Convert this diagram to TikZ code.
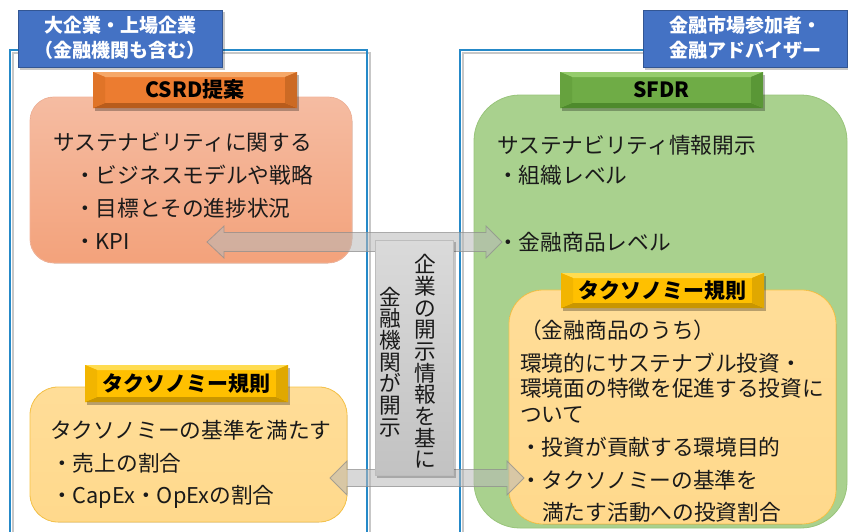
\documentclass[tikz,border=0pt]{standalone}
\usepackage{fontspec}
\setmainfont{Noto Sans CJK JP}
\usetikzlibrary{calc}
\definecolor{frameblue}{HTML}{2589C8}
\definecolor{labblue}{HTML}{4472C4}
\definecolor{txtcol}{HTML}{1A1A1A}
\definecolor{pinktop}{HTML}{F5BCA2}
\definecolor{pinkbot}{HTML}{F3A27B}
\definecolor{pinkline}{HTML}{F4B59A}
\definecolor{grnbox}{HTML}{A9D18E}
\definecolor{grnline}{HTML}{98C47A}
\definecolor{yelbox}{HTML}{FFD98C}
\definecolor{yelboxtop}{HTML}{FFDD98}
\definecolor{yelline}{HTML}{F8C448}
\definecolor{graytop}{HTML}{DADADA}
\definecolor{graybot}{HTML}{C2C2C2}
\definecolor{grayline}{HTML}{BDBDBD}
\definecolor{orgmain}{HTML}{EC7C30}
\definecolor{orglight}{HTML}{F6A868}
\definecolor{orgdark}{HTML}{B85C1C}
\definecolor{orgleft}{HTML}{E07428}
\definecolor{orgright}{HTML}{CC6A24}
\definecolor{grnmain}{HTML}{6FAC46}
\definecolor{grnlight}{HTML}{95CC6C}
\definecolor{grndark}{HTML}{4E8A2C}
\definecolor{grnleft}{HTML}{66A23E}
\definecolor{grnright}{HTML}{5A9736}
\definecolor{yelmain}{HTML}{FFC000}
\definecolor{yellight}{HTML}{FFDC50}
\definecolor{yeldark}{HTML}{C99600}
\definecolor{yelleft}{HTML}{F2B500}
\definecolor{yelright}{HTML}{E0A800}
\newcommand\bevelhdr[7]{%
  \fill[black,opacity=.28] (#2+2,#3+3) rectangle (#4+2,#5+3);
  \fill[#6main] (#2,#3) rectangle (#4,#5);
  \fill[#6light] (#2,#3) -- (#4,#3) -- (#4-12,#3+5) -- (#2+12,#3+5) -- cycle;
  \fill[#6dark] (#2,#5) -- (#4,#5) -- (#4-12,#5-5) -- (#2+12,#5-5) -- cycle;
  \fill[#6left] (#2,#3) -- (#2+12,#3+5) -- (#2+12,#5-5) -- (#2,#5) -- cycle;
  \fill[#6right] (#4,#3) -- (#4-12,#3+5) -- (#4-12,#5-5) -- (#4,#5) -- cycle;
  \node[hdrtxt] (#1) at ({(#2+#4)/2},{(#3+#5)/2}) {#7};
}
\begin{document}
\begin{tikzpicture}[x=1pt,y=-1pt,
  txt/.style={anchor=west,inner sep=0,font=\fontsize{21.7}{26}\selectfont,text=txtcol},
  hdrtxt/.style={inner sep=0,font=\fontsize{21}{25}\selectfont\bfseries,text=black},
  labtxt/.style={inner sep=0,align=center,font=\fontsize{19}{25}\selectfont\bfseries,text=white},
  vtxt/.style={inner sep=0,align=center,font=\fontsize{21.7}{21.7}\selectfont,text=txtcol},
  framest/.style={frameblue,line width=2.6},
  frameshadow/.style={black!22,line width=2.6},
  arrowst/.style={fill=black!28,fill opacity=.55,draw=black!45,draw opacity=.7,line width=0.8,line join=miter},
  shadowst/.style={black,opacity=.22}]
\useasboundingbox (0,0) rectangle (848,531);
\fill[white] (0,0) rectangle (848,531);
% frames
\draw[frameshadow] (13,545) -- (13,53) -- (370,53) -- (370,545);
\draw[framest] (10,545) -- (10,50) -- (367,50) -- (367,545);
\draw[frameshadow] (463,545) -- (463,53) -- (870,53);
\draw[framest] (460,545) -- (460,50) -- (870,50);
% label boxes
\fill[shadowst] (20,12) rectangle (225,70);
\filldraw[fill=labblue,draw=labblue!75!black,line width=0.6] (18,10) rectangle (222,67);
\node[labtxt] (labL) at (120,37.5) {大企業・上場企業\\（金融機関も含む）};
\fill[shadowst] (645,12) rectangle (850,70);
\filldraw[fill=labblue,draw=labblue!75!black,line width=0.6] (643,10) rectangle (847,67);
\node[labtxt] (labR) at (745,37.5) {金融市場参加者・\\金融アドバイザー};
% rounded boxes
\filldraw[top color=pinktop, bottom color=pinkbot, draw=pinkline, line width=0.8, rounded corners=24] (30,97) rectangle (352,263);
\filldraw[fill=grnbox, draw=grnline, line width=0.8, rounded corners=46] (474,95) rectangle (847,528);
\filldraw[top color=yelboxtop, bottom color=yelbox, draw=yelline, line width=0.8, rounded corners=34] (509,290) rectangle (836,524);
\filldraw[top color=yelboxtop, bottom color=yelbox, draw=yelline, line width=0.8, rounded corners=28] (30,387) rectangle (347,522);
% headers
\bevelhdr{hCSRD}{93}{72}{297}{108}{org}{CSRD提案}
\bevelhdr{hSFDR}{560}{72}{763}{108}{grn}{SFDR}
\bevelhdr{hTaxR}{561}{273}{764}{308}{yel}{タクソノミー規則}
\bevelhdr{hTaxL}{85}{365}{288}{402}{yel}{タクソノミー規則}
% texts, left pink
\node[txt] (p1) at (53,142) {サステナビリティに関する};
\node[txt] (p2) at (74,175) {・ビジネスモデルや戦略};
\node[txt] (p3) at (74,208) {・目標とその進捗状況};
\node[txt] (p4) at (74,242) {・KPI};
% green
\node[txt] (g1) at (497,145) {サステナビリティ情報開示};
\node[txt] (g2) at (497,175) {・組織レベル};
\node[txt] (g3) at (497,242) {・金融商品レベル};
% right yellow
\node[txt] (y1) at (520,330) {（金融商品のうち）};
\node[txt] (y2) at (520,363) {環境的にサステナブル投資・};
\node[txt] (y3) at (520,388) {環境面の特徴を促進する投資に};
\node[txt] (y4) at (520,415) {ついて};
\node[txt] (y5) at (520,447) {・投資が貢献する環境目的};
\node[txt] (y6) at (520,480) {・タクソノミーの基準を};
\node[txt] (y7) at (542,512) {満たす活動への投資割合};
% left yellow
\node[txt] (l1) at (50,430) {タクソノミーの基準を満たす};
\node[txt] (l2) at (51,463) {・売上の割合};
\node[txt] (l3) at (51,497) {・CapEx・OpExの割合};
% arrows
\coordinate (t1) at (207,242);
\coordinate (t2) at (502,242);
\filldraw[arrowst] (t1) -- ++(17,-16) -- ++(0,6.5) -- ($(t2)+(-16,-9.5)$) -- ++(0,-6.5) -- (t2) -- ++(-16,16) -- ++(0,-6.5) -- ($(t1)+(17,9.5)$) -- ++(0,6.5) -- cycle;
\coordinate (b1) at (330,478);
\coordinate (b2) at (524,478);
\filldraw[arrowst] (b1) -- ++(17,-17) -- ++(0,8.5) -- ($(b2)+(-17,-8.5)$) -- ++(0,-8.5) -- (b2) -- ++(-17,17) -- ++(0,-8.5) -- ($(b1)+(17,8.5)$) -- ++(0,8.5) -- cycle;
% middle box
\fill[shadowst] (377,242) rectangle (456,478);
\filldraw[top color=graytop, bottom color=graybot, draw=grayline, line width=0.8] (375,240) rectangle (453,475);
\node[vtxt] (v1) at (425,361.5) {企\\業\\の\\開\\示\\情\\報\\を\\基\\に};
\node[vtxt] (v2) at (390,362) {金\\融\\機\\関\\が\\開\\示};
\end{tikzpicture}
\end{document}
